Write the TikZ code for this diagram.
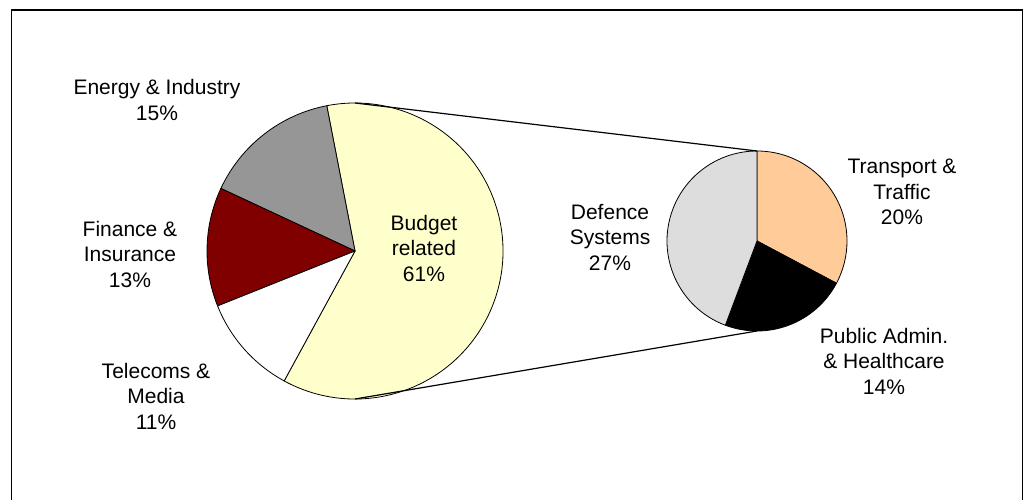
\documentclass[tikz,border=0pt]{standalone}
\usepackage{fontspec}
\setmainfont{Liberation Sans}
\usetikzlibrary{calc}
\definecolor{energygray}{RGB}{150,150,150}
\definecolor{financered}{RGB}{128,0,0}
\definecolor{budgetyellow}{RGB}{255,255,204}
\definecolor{transportpeach}{RGB}{255,204,153}
\definecolor{defencegray}{RGB}{221,221,221}

\begin{document}
\begin{tikzpicture}[x=1pt,y=1pt]
\tikzstyle{every node}+=[inner sep=0pt, align=center, font=\fontsize{21}{25.5}\selectfont]
\tikzstyle{slice}=[draw=black, line width=0.8pt, line join=round]
\useasboundingbox (0,0) rectangle (1027,500);
\draw [black, line width=1.2pt] (11.5,490) rectangle (1022.5,-10);
% main pie
\coordinate (bigc) at (355,249);
\draw [slice, fill=budgetyellow] (bigc) -- ++(-118.6:148) arc (-118.6:101:148) -- cycle;
\draw [slice, fill=energygray] (bigc) -- ++(101:148) arc (101:155:148) -- cycle;
\draw [slice, fill=financered] (bigc) -- ++(155:148) arc (155:201.8:148) -- cycle;
\draw [slice, fill=white] (bigc) -- ++(201.8:148) arc (201.8:241.4:148) -- cycle;
% second pie
\coordinate (smallc) at (757,259);
\draw [slice, fill=transportpeach] (smallc) -- ++(90:90) arc (90:-28:90) -- cycle;
\draw [slice, fill=black] (smallc) -- ++(-28:90) arc (-28:-110.6:90) -- cycle;
\draw [slice, fill=defencegray] (smallc) -- ++(-110.6:90) arc (-110.6:-270:90) -- cycle;
% connectors
\coordinate (bigtop) at ($(bigc)+(90:148)$);
\coordinate (bigbottom) at ($(bigc)+(-90:148)$);
\coordinate (smalltop) at ($(smallc)+(90:90)$);
\coordinate (smallbottom) at ($(smallc)+(-90:90)$);
\draw [black, line width=1.2pt] (bigtop) -- (smalltop);
\draw [black, line width=1.2pt] (bigbottom) -- (smallbottom);
% labels
\node (energy) at (157,400) {Energy \& Industry\\15\%};
\node (finance) at (130,246) {Finance \&\\Insurance\\13\%};
\node (telecoms) at (156,104) {Telecoms \&\\Media\\11\%};
\node (budget) at (424,252) {Budget\\related\\61\%};
\node (defence) at (610,263) {Defence\\Systems\\27\%};
\node (transport) at (902,308) {Transport \&\\Traffic\\20\%};
\node (publicadmin) at (884,139) {Public Admin.\\\& Healthcare\\14\%};
\end{tikzpicture}
\end{document}
